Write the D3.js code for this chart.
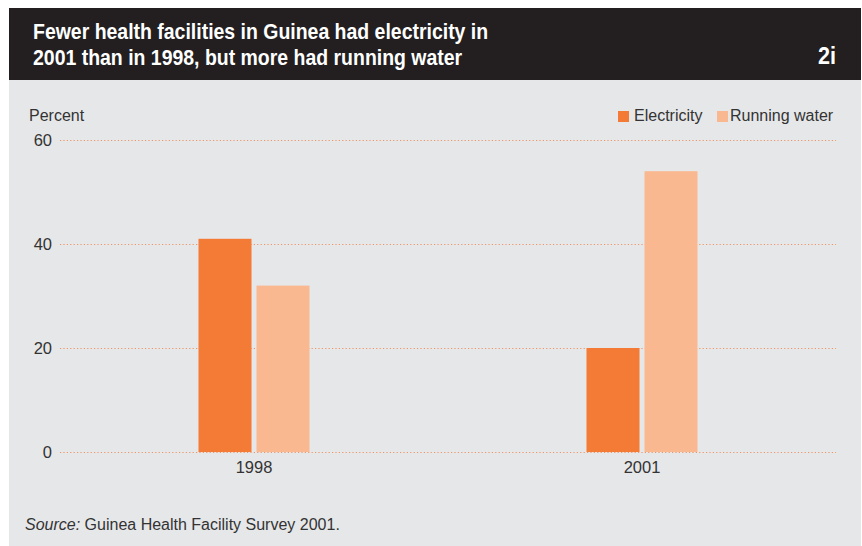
<!DOCTYPE html>
<html><head><meta charset="utf-8">
<script src="https://cdn.jsdelivr.net/npm/d3@7"></script>
<style>body{margin:0;background:#fff}svg{display:block}</style>
</head><body>
<script>
const categories = ["1998", "2001"];
const seriesNames = ["Electricity", "Running water"];
const electricity = [41, 20];
const runningWater = [32, 54];
const yTicks = [0, 20, 40, 60];
const titleLines = ["Fewer health facilities in Guinea had electricity in", "2001 than in 1998, but more had running water"];
const colors = ["#f47b36", "#fab891"];

const W = 862, H = 546;
const svg = d3.select("body").append("svg").attr("width", W).attr("height", H);
const sans = "'Liberation Sans', Arial, sans-serif";

svg.append("rect").attr("x", 9).attr("y", 80).attr("width", 852).attr("height", 466).attr("fill", "#e6e7e9");
svg.append("rect").attr("x", 9).attr("y", 8).attr("width", 852).attr("height", 72).attr("fill", "#231f20");

const tg = svg.append("g").attr("transform", "translate(33,0) scale(0.905,1)");
tg.selectAll("text").data(titleLines).join("text")
  .attr("x", 0).attr("y", (d, i) => 39 + i * 26)
  .attr("fill", "#fff").attr("font-family", sans).attr("font-weight", "bold")
  .attr("font-size", 21.5).text(d => d);
svg.append("g").attr("transform", "translate(836,0) scale(0.9,1)")
  .append("text").attr("x", 0).attr("y", 64).attr("text-anchor", "end")
  .attr("fill", "#fff").attr("font-family", sans).attr("font-weight", "bold")
  .attr("font-size", 24).text("2i");

const x = d3.scaleBand().domain(categories).range([60, 836]).padding(0);
const y = d3.scaleLinear().domain([0, 60]).range([452, 140]);
const barW = 53, gap = 5;

const yAxis = svg.append("g").attr("transform", "translate(60,0)")
  .call(d3.axisLeft(y).tickValues(yTicks).tickSize(-776).tickPadding(8));
yAxis.select(".domain").remove();
yAxis.selectAll(".tick line").attr("stroke", "#ee9466").attr("stroke-dasharray", "1.2,2.2").attr("stroke-width", 1);
yAxis.selectAll(".tick text").attr("font-family", sans).attr("font-size", 16.5).attr("fill", "#333").attr("dy", "0.35em");

svg.append("text").attr("x", 29).attr("y", 121).attr("font-family", sans).attr("font-size", 16).attr("fill", "#333").text("Percent");

const data = categories.map((c, i) => ({c, vals: [electricity[i], runningWater[i]]}));
const g = svg.append("g");
data.forEach(d => {
  const cx = x(d.c) + x.bandwidth() / 2;
  d.vals.forEach((v, j) => {
    const x0 = j === 0 ? cx - gap / 2 - barW : cx + gap / 2;
    g.append("rect").attr("x", x0).attr("y", y(v)).attr("width", barW)
      .attr("height", y(0) - y(v)).attr("fill", colors[j]);
  });
});

const xAxis = svg.append("g").attr("transform", "translate(0,452)")
  .call(d3.axisBottom(x).tickSize(0).tickPadding(9));
xAxis.select(".domain").remove();
xAxis.selectAll(".tick text").attr("font-family", sans).attr("font-size", 16.5).attr("fill", "#333");

// legend
const legendX = [618, 717];
seriesNames.forEach((s, i) => {
  svg.append("rect").attr("x", legendX[i]).attr("y", 111).attr("width", 11).attr("height", 11).attr("fill", colors[i]);
  svg.append("text").attr("x", legendX[i] + (i === 0 ? 16 : 13)).attr("y", 121)
    .attr("font-family", sans).attr("font-size", 16).attr("fill", "#333").text(s);
});

const src = svg.append("text").attr("x", 25).attr("y", 530).attr("font-family", sans).attr("font-size", 16).attr("fill", "#333");
src.append("tspan").attr("font-style", "italic").text("Source:");
src.append("tspan").text(" Guinea Health Facility Survey 2001.");
</script>
</body></html>
